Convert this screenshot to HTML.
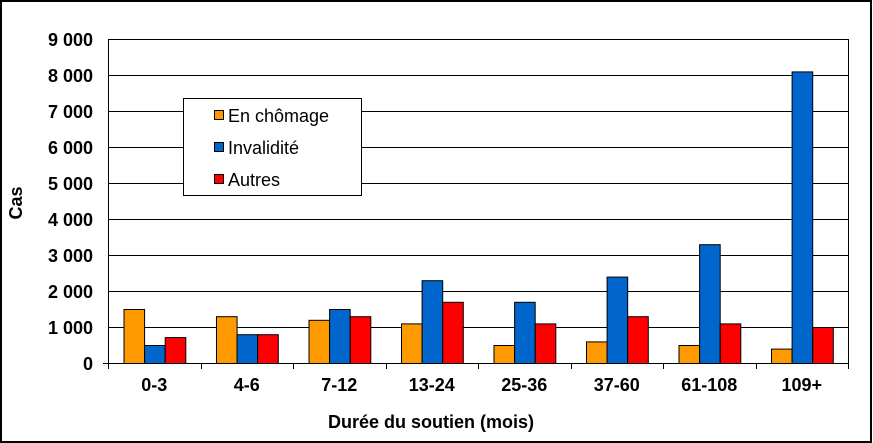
<!DOCTYPE html>
<html><head><meta charset="utf-8"><style>
html,body{margin:0;padding:0;background:#fff}
svg{display:block}
text{font-family:"Liberation Sans",Arial,sans-serif;font-weight:bold;fill:#000}
</style></head><body>
<svg width="873" height="443" viewBox="0 0 873 443" xmlns="http://www.w3.org/2000/svg">
<rect x="1" y="1" width="870" height="441" fill="#fff" stroke="#000" stroke-width="2"/>
<g stroke="#000" stroke-width="1">
<line x1="108" y1="39.5" x2="848" y2="39.5"/>
<line x1="108" y1="75.5" x2="848" y2="75.5"/>
<line x1="108" y1="111.5" x2="848" y2="111.5"/>
<line x1="108" y1="147.5" x2="848" y2="147.5"/>
<line x1="108" y1="183.5" x2="848" y2="183.5"/>
<line x1="108" y1="219.5" x2="848" y2="219.5"/>
<line x1="108" y1="255.5" x2="848" y2="255.5"/>
<line x1="108" y1="291.5" x2="848" y2="291.5"/>
<line x1="108" y1="327.5" x2="848" y2="327.5"/>
<line x1="848.5" y1="39" x2="848.5" y2="363"/>
<line x1="108.5" y1="39" x2="108.5" y2="369"/>
<line x1="103" y1="363.5" x2="848" y2="363.5"/>
</g>
<g stroke="#000" stroke-width="1" id="ticks"></g>
<g id="bars" stroke="#000" stroke-width="1"></g>
<g font-size="18" text-anchor="end">
<text x="93" y="46">9 000</text><text x="93" y="82">8 000</text><text x="93" y="118">7 000</text>
<text x="93" y="154">6 000</text><text x="93" y="190">5 000</text><text x="93" y="226">4 000</text>
<text x="93" y="262">3 000</text><text x="93" y="298">2 000</text><text x="93" y="334">1 000</text>
<text x="93" y="370">0</text>
</g>
<g font-size="18" text-anchor="middle" id="cats"></g>
<text x="22" y="203" font-size="18" text-anchor="middle" transform="rotate(-90 22 203)">Cas</text>
<text x="431" y="428" font-size="18" text-anchor="middle">Durée du soutien (mois)</text>
<rect x="183.5" y="98.5" width="178" height="97" fill="#fff" stroke="#000"/>
<rect x="214.5" y="110.5" width="9" height="9" fill="#FF9900" stroke="#000"/>
<rect x="214.5" y="142.5" width="9" height="9" fill="#0066CC" stroke="#000"/>
<rect x="214.5" y="174.5" width="9" height="9" fill="#FF0000" stroke="#000"/>
<g font-size="18">
<text x="228" y="122" style="font-weight:normal">En chômage</text>
<text x="228" y="154" style="font-weight:normal">Invalidité</text>
<text x="228" y="186" style="font-weight:normal">Autres</text>
</g>
<script>
var d=[[1500,500,720],[1300,800,800],[1200,1500,1300],[1100,2300,1700],[500,1700,1100],[600,2400,1300],[500,3300,1100],[400,8100,1000]];
var c=["0-3","4-6","7-12","13-24","25-36","37-60","61-108","109+"];
var col=["#FF9900","#0066CC","#FF0000"];
var ns="http://www.w3.org/2000/svg",b=document.getElementById("bars"),t=document.getElementById("ticks"),k=document.getElementById("cats");
var gw=92.5;
for(var i=0;i<8;i++){
 var x0=108+i*gw;
 for(var j=0;j<3;j++){
  var h=d[i][j]*0.036;var r=document.createElementNS(ns,"rect");
  r.setAttribute("x",(x0+16+j*20.6).toFixed(1));r.setAttribute("y",(363.5-h).toFixed(1));
  r.setAttribute("width","20.6");r.setAttribute("height",h.toFixed(1));r.setAttribute("fill",col[j]);b.appendChild(r);
 }
 var l=document.createElementNS(ns,"line");var xt=Math.round(x0+gw)+0.5;
 l.setAttribute("x1",xt);l.setAttribute("x2",xt);l.setAttribute("y1",363);l.setAttribute("y2",369);t.appendChild(l);
 var tx=document.createElementNS(ns,"text");tx.setAttribute("x",x0+gw/2);tx.setAttribute("y",391);tx.textContent=c[i];k.appendChild(tx);
}
</script>
</svg>
</body></html>
